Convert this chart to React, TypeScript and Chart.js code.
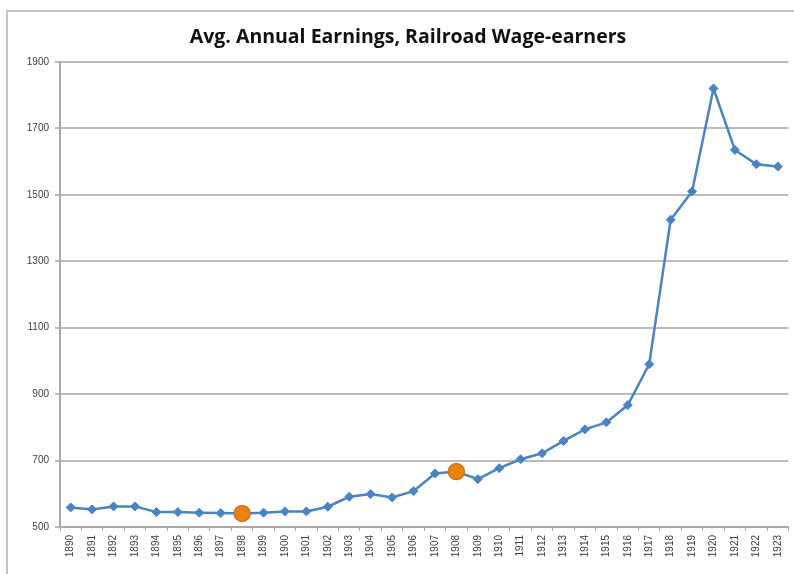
import React, { useEffect, useRef } from "react";
import { Chart, registerables } from "chart.js";

Chart.register(...registerables);

const years: string[] = [
  "1890","1891","1892","1893","1894","1895","1896","1897","1898","1899",
  "1900","1901","1902","1903","1904","1905","1906","1907","1908","1909",
  "1910","1911","1912","1913","1914","1915","1916","1917","1918","1919",
  "1920","1921","1922","1923",
];

const earnings: number[] = [
  559, 553, 562, 562, 545, 545, 543, 542, 541, 543,
  547, 547, 561, 591, 599, 589, 608, 661, 667, 644,
  677, 704, 722, 759, 794, 815, 867, 990, 1425, 1510,
  1820, 1635, 1592, 1585,
];

const highlightedYears: string[] = ["1898", "1908"];

const yMin = 500;
const yMax = 1900;
const yStep = 200;

const titleText = "Avg. Annual Earnings, Railroad Wage-earners";

export default function App() {
  const canvasRef = useRef<HTMLCanvasElement | null>(null);

  useEffect(() => {
    if (!canvasRef.current) return;
    const isHi = years.map((y) => highlightedYears.includes(y));
    const chart = new Chart(canvasRef.current, {
      type: "line",
      data: {
        labels: years,
        datasets: [
          {
            data: earnings,
            borderColor: "#4A83C4",
            borderWidth: 2.5,
            pointStyle: isHi.map((h) => (h ? "circle" : "rectRot")) as any,
            pointRadius: isHi.map((h) => (h ? 8 : 4.5)),
            pointBackgroundColor: isHi.map((h) => (h ? "#EB820E" : "#4A83C4")),
            pointBorderColor: isHi.map((h) => (h ? "#C8761E" : "#4A83C4")),
            pointBorderWidth: isHi.map((h) => (h ? 1.5 : 1)),
            tension: 0,
          },
        ],
      },
      options: {
        animation: false,
        responsive: false,
        maintainAspectRatio: false,
        layout: { padding: { left: 22, right: 0, top: 0, bottom: 0 } },
        plugins: {
          legend: { display: false },
          tooltip: { enabled: false },
          title: {
            display: true,
            text: titleText,
            color: "#111111",
            font: { family: "Open Sans", size: 19.5, weight: "bold" },
            padding: { top: 26, bottom: 12.5 },
          },
        },
        scales: {
          x: {
            offset: true,
            grid: {
              display: true,
              offset: true,
              drawOnChartArea: false,
              drawTicks: true,
              tickLength: 4,
              color: "#a8a8a8",
            },
            border: { display: true, color: "#a8a8a8", width: 2 },
            ticks: {
              minRotation: 90,
              maxRotation: 90,
              autoSkip: false,
              color: "#404040",
              padding: 4,
              font: { family: "Liberation Sans", size: 10 },
            },
            afterFit: (scale: any) => {
              scale.height = 47;
            },
          },
          y: {
            min: yMin,
            max: yMax,
            ticks: {
              stepSize: yStep,
              color: "#404040",
              padding: 6,
              font: { family: "Liberation Sans", size: 10 },
              callback: (v: any) => String(v),
            },
            grid: {
              color: "#bcbcbc",
              lineWidth: 2,
              tickLength: 5,
            },
            border: { display: true, color: "#a8a8a8", width: 2 },
            afterFit: (scale: any) => {
              scale.width = 38;
            },
          },
        },
      },
    });
    return () => chart.destroy();
  }, []);

  return (
    <div
      style={{
        position: "fixed",
        left: 0,
        top: 0,
        width: 794,
        height: 574,
        background: "#ffffff",
        overflow: "hidden",
      }}
    >
      <div
        style={{
          position: "absolute",
          left: 6,
          top: 10,
          width: 800,
          height: 600,
          borderTop: "2px solid #c4c4c4",
          borderLeft: "2px solid #c4c4c4",
        }}
      />
      <canvas
        ref={canvasRef}
        width={794}
        height={574}
        style={{ position: "absolute", left: 0, top: 0 }}
      />
    </div>
  );
}
